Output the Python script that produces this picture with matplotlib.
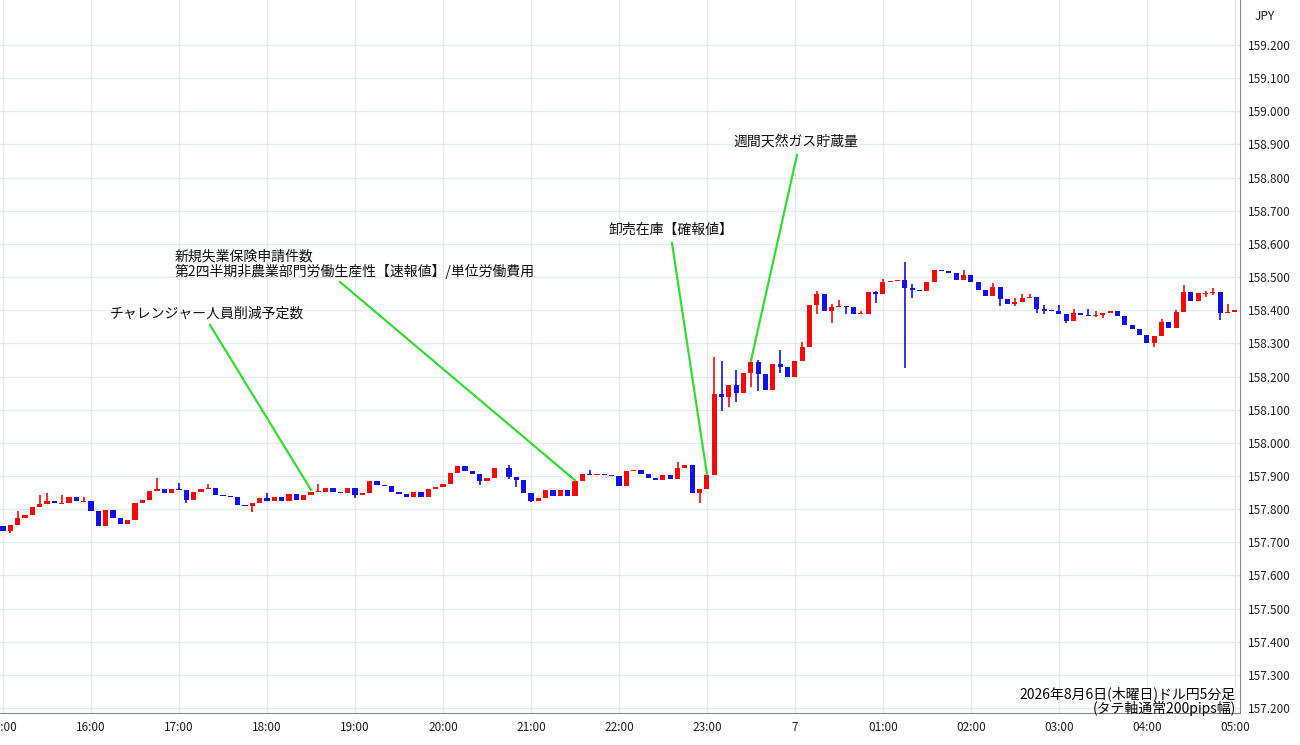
import matplotlib
matplotlib.use("Agg")
import matplotlib.pyplot as plt
import numpy as np

plt.rcParams['font.family'] = ['Noto Sans CJK JP', 'DejaVu Sans']

closes = [157.733,157.753,157.773,157.783,157.805,157.815,157.825,157.818,157.818,157.835,157.823,157.823,
157.795,157.750,157.798,157.773,157.756,157.766,157.818,157.828,157.856,157.861,157.848,157.861,
157.858,157.826,157.853,157.861,157.865,157.843,157.841,157.836,157.813,157.808,157.818,157.833,
157.823,157.835,157.823,157.845,157.826,157.843,157.853,157.853,157.863,157.851,157.850,157.865,
157.843,157.850,157.885,157.873,157.871,157.853,157.845,157.837,157.852,157.837,157.860,157.867,
157.875,157.910,157.930,157.915,157.905,157.885,157.895,157.923,157.925,157.898,157.888,157.849,
157.825,157.832,157.857,157.839,157.857,157.839,157.885,157.905,157.903,157.907,157.904,157.899,
157.870,157.916,157.917,157.905,157.895,157.887,157.902,157.890,157.923,157.933,157.850,157.862,
157.902,158.147,158.139,158.174,158.151,158.212,158.245,158.209,158.159,158.237,158.229,158.197,
158.248,158.290,158.416,158.448,158.398,158.410,158.412,158.410,158.388,158.390,158.454,158.449,
158.484,158.488,158.491,158.468,158.461,158.459,158.484,158.520,158.519,158.511,158.491,158.506,
158.484,158.461,158.444,158.469,158.434,158.419,158.425,158.438,158.441,158.404,158.399,158.397,
158.388,158.368,158.393,158.387,158.382,158.385,158.393,158.398,158.383,158.355,158.343,158.325,
158.300,158.323,158.365,158.345,158.395,158.456,158.428,158.451,158.452,158.455,158.392,158.396,
158.400]
first_open = 157.748
highs = {2:157.795,5:157.843,6:157.848,8:157.843,11:157.838,21:157.893,24:157.878,28:157.875,
36:157.850,43:157.875,69:157.933,92:157.943,97:158.260,98:158.246,100:158.219,103:158.251,
106:158.280,109:158.305,111:158.459,113:158.418,114:158.430,117:158.398,119:158.459,120:158.493,
123:158.546,124:158.479,131:158.521,135:158.483,138:158.437,139:158.448,140:158.449,142:158.415,
144:158.415,146:158.403,148:158.403,149:158.398,158:158.372,160:158.402,161:158.476,164:158.458,
165:158.466,167:158.420,80:157.917}
lows = {34:157.790,48:157.833,65:157.873,70:157.868,72:157.820,95:157.817,98:158.096,99:158.109,
100:158.124,102:158.167,103:158.157,106:158.211,111:158.390,113:158.360,115:158.390,119:158.423,
123:158.227,124:158.436,136:158.414,138:158.412,141:158.393,142:158.388,145:158.360,149:158.378,
150:158.375,157:158.290,164:158.440,165:158.446,166:158.370,1:157.728,25:157.818,69:157.892}

xtick_labels = ['15:00','16:00','17:00','18:00','19:00','20:00','21:00','22:00','23:00','7',
                '01:00','02:00','03:00','04:00','05:00']
yticks = [157.2,157.3,157.4,157.5,157.6,157.7,157.8,157.9,158.0,158.1,158.2,158.3,158.4,158.5,
          158.6,158.7,158.8,158.9,159.0,159.1,159.2]

events = ['チャレンジャー人員削減予定数',
          '新規失業保険申請件数\n第2四半期非農業部門労働生産性【速報値】/単位労働費用',
          '卸売在庫【確報値】',
          '週間天然ガス貯蔵量']
event_idx = [42, 78, 96, 102]
event_price = [157.858, 157.887, 157.905, 158.247]

opens = [first_open] + closes[:-1]
n = len(closes)
RED, BLUE = '#f50a0a', '#1010e8'

fig = plt.figure(figsize=(13, 7.45), dpi=100)
ax = fig.add_axes([0, 32/745, 1240/1300, 1 - 32/745])
ax.set_xlim(-0.41, 168.7)
ax.set_ylim(157.2 - 5/331.5, 159.2 + 45/331.5)

for i in range(n):
    o, c = opens[i], closes[i]
    col = RED if c >= o else BLUE
    hi = max(highs.get(i, max(o, c)), o, c)
    lo = min(lows.get(i, min(o, c)), o, c)
    ax.vlines(i, lo, hi, color=col, lw=1.2, zorder=3)
    b = abs(c - o)
    ax.bar(i, max(b, 0.0025), bottom=min(o, c) if b >= 0.0025 else (o + c) / 2 - 0.00125,
           width=0.7, color=col, zorder=4, linewidth=0)

ax.set_xticks(np.arange(0, 169, 12))
ax.set_xticklabels(xtick_labels)
ax.set_yticks(yticks)
ax.set_yticklabels([f'{v:.3f}' for v in yticks])
ax.yaxis.tick_right()
ax.tick_params(axis='both', length=0, labelsize=8.5, colors='#222222', pad=6)
ax.grid(True, color='#e4ebf1', lw=1)
ax.set_axisbelow(True)
for s in ['top', 'left']:
    ax.spines[s].set_visible(False)
ax.spines['right'].set_color('#888888')
ax.spines['bottom'].set_color('#888888')

fig.text(1265/1300, 1 - 16/745, 'JPY', fontsize=8.5, ha='center', va='center', color='#222222')

green = '#33dd33'
text_pos = [(110, 314), (175, 264), (609, 230), (733, 142)]
line_start = [(210, 325), (340, 282), (672, 243), (797, 155)]
for txt, (tx, ty) in zip(events, text_pos):
    fig.text(tx / 1300, 1 - ty / 745, txt, fontsize=10, ha='left', va='center',
             color='#111111', linespacing=1.0)

fig.canvas.draw()
inv = ax.transData.inverted()
for (px, py), xi, yv in zip(line_start, event_idx, event_price):
    x0, y0 = inv.transform((px, 745 - py))
    ax.plot([x0, xi], [y0, yv], color=green, lw=1.6, zorder=5, clip_on=False)

fig.text(1236/1300, 1 - 694/745, '2026年8月6日(木曜日)ドル円5分足', fontsize=10, ha='right', va='center')
fig.text(1236/1300, 1 - 709/745, '(タテ軸通常200pips幅)', fontsize=10, ha='right', va='center')

fig.savefig('out.png', dpi=100)
